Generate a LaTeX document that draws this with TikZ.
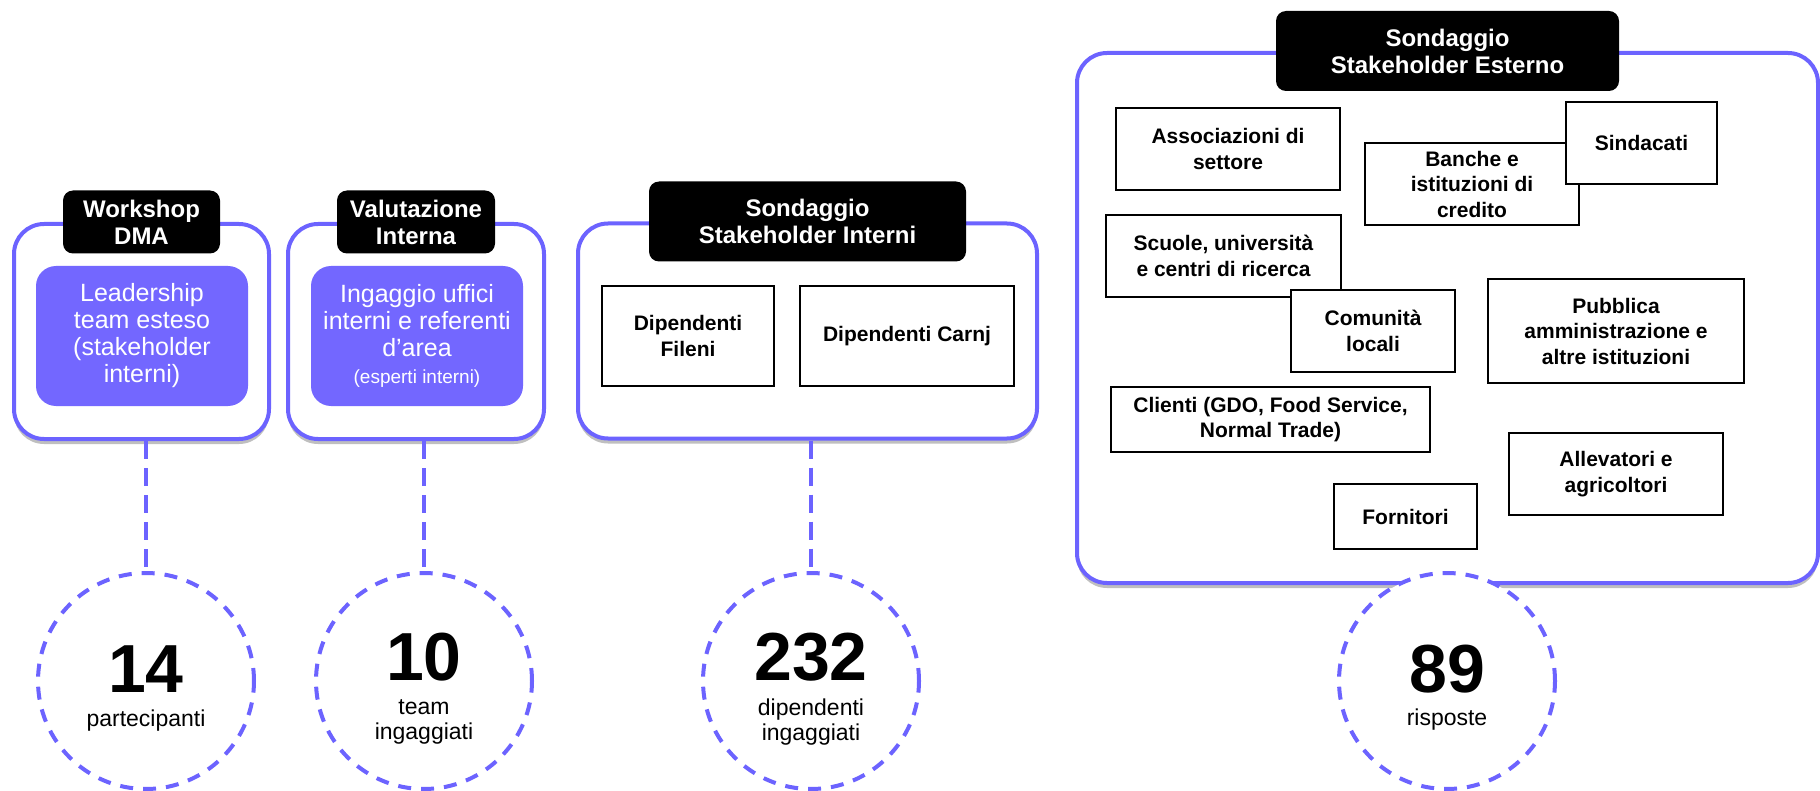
\documentclass[tikz,border=0pt]{standalone}
\usepackage{fontspec}
\setmainfont{Liberation Sans}
\usetikzlibrary{shadows,positioning}
\definecolor{dmaline}{HTML}{6C63FF}
\definecolor{dmafill}{HTML}{7367FF}

\begin{document}
\begin{tikzpicture}
  [x=0.5pt,y=-0.5pt,
   panel/.style={draw=dmaline,line width=2pt,rounded corners=15pt,fill=white,
     drop shadow={shadow xshift=0pt,shadow yshift=-2.5pt,opacity=.25,fill=black}},
   tag/.style={fill=black,text=white,rounded corners=5pt,align=center,inner sep=0pt,
     font=\fontsize{12}{13.5}\selectfont\bfseries},
   group/.style={fill=dmafill,text=white,rounded corners=10pt,align=center,inner sep=0pt,
     minimum width=106pt,minimum height=70pt,font=\fontsize{12.5}{13.5}\selectfont},
   card/.style={draw=black,line width=1pt,fill=white,align=center,inner sep=0pt,
     font=\fontsize{10.5}{12.75}\selectfont\bfseries},
   stat/.style={circle,draw=dmaline,line width=2pt,dash pattern=on 6.5pt off 5pt,
     fill=white,minimum size=108pt,inner sep=0pt},
   num/.style={anchor=base,inner sep=0pt,font=\fontsize{34}{34}\selectfont\bfseries},
   statlabel/.style={align=center,inner sep=0pt,font=\fontsize{11.5}{12.5}\selectfont},
   link/.style={draw=dmaline,line width=1.8pt,dash pattern=on 9pt off 4.5pt}]
  \useasboundingbox (0,0) rectangle (1820,791);

  % panels
  \node[panel,minimum width=127.5pt,minimum height=107.5pt] (b1) at (141.5,331.5) {};
  \node[panel,minimum width=128pt,minimum height=107.5pt] (b2) at (416,331.5) {};
  \node[panel,minimum width=229.5pt,minimum height=107.5pt] (b3) at (807.5,331) {};
  \node[panel,minimum width=370.5pt,minimum height=265pt] (b4) at (1447.5,318) {};

  \node[tag,minimum width=78.5pt,minimum height=31.5pt] (t1) at (b1.north) {Workshop\\DMA};
  \node[tag,minimum width=79pt,minimum height=31.5pt] (t2) at (b2.north) {Valutazione\\Interna};
  \node[tag,minimum width=158.5pt,minimum height=40pt] (t3) at (b3.north) {Sondaggio\\Stakeholder Interni};
  \node[tag,minimum width=171.5pt,minimum height=40pt] (t4) at (b4.north) {Sondaggio\\Stakeholder Esterno};

  \node[group] (g1) at (142,336) {Leadership\\team esteso\\(stakeholder\\interni)};
  \node[group] (g2) at (417,336) {Ingaggio uffici\\interni e referenti\\d’area\\
    {\fontsize{9.5}{11}\selectfont (esperti interni)}};

  \node[card,minimum width=86pt,minimum height=50pt] (fileni) at (688,336) {Dipendenti\\Fileni};
  \node[card,minimum width=107pt,minimum height=50pt] (carnj) at (907,336) {Dipendenti Carnj};

  % stakeholder esterni
  \node[card,minimum width=112pt,minimum height=41pt] (assoc) at (1228,149) {Associazioni di\\settore};
  \node[card,minimum width=107pt,minimum height=41pt] (banche) at (1472,184) {Banche e\\istituzioni di\\credito};
  \node[card,minimum width=75.5pt,minimum height=41pt] (sind) at (1641.5,143) {Sindacati};
  \node[card,minimum width=117.5pt,minimum height=41pt] (scuole) at (1223.5,256) {Scuole, università\\e centri di ricerca};
  \node[card,minimum width=82pt,minimum height=41pt] (comun) at (1373,331) {Comunità\\locali};
  \node[card,minimum width=128pt,minimum height=52pt] (pubbl) at (1616,331) {Pubblica\\amministrazione e\\altre istituzioni};
  \node[card,minimum width=159.5pt,minimum height=32.5pt] (clienti) at (1270.5,419.5) {Clienti (GDO, Food Service,\\Normal Trade)};
  \node[card,minimum width=107pt,minimum height=41pt] (allev) at (1616,474) {Allevatori e\\agricoltori};
  \node[card,minimum width=71.5pt,minimum height=32.5pt] (forn) at (1405.5,516.5) {Fornitori};

  % numbers
  \node[stat] (c1) at (146,681) {};
  \node[stat] (c2) at (424,681) {};
  \node[stat] (c3) at (811,681) {};
  \node[stat] (c4) at (1447,681) {};

  \node[num] (n1) at (146,692) {14};
  \node[num] (n2) at (424,680) {10};
  \node[num] (n3) at (811,680) {232};
  \node[num] (n4) at (1447,692) {89};

  \node[statlabel] (l1) at (146,721) {partecipanti};
  \node[statlabel] (l2) at (424,722) {team\\ingaggiati};
  \node[statlabel] (l3) at (811,722) {dipendenti\\ingaggiati};
  \node[statlabel] (l4) at (1447,720) {risposte};

  \foreach \from/\to in {b1/c1,b2/c2,b3/c3}
    \draw[link] (\to.north |- \from.south) -- (\to.north);

\end{tikzpicture}
\end{document}
